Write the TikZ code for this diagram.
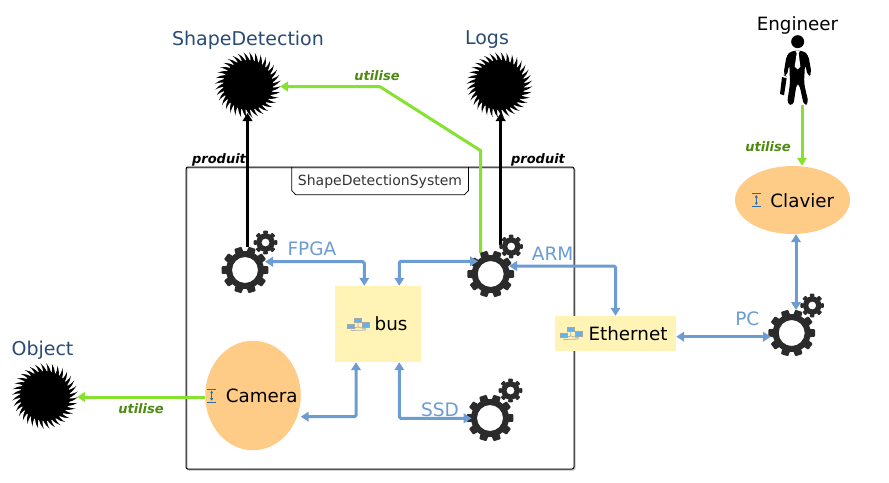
\documentclass[tikz,border=0pt]{standalone}
\usepackage{fontspec}
\setmainfont{DejaVu Sans}
\usetikzlibrary{arrows.meta,shapes.geometric}
\definecolor{titleblue}{HTML}{2A4B72}
\definecolor{linkblue}{HTML}{6D9CD2}
\definecolor{linkgreen}{HTML}{86E22E}
\definecolor{labgreen}{HTML}{4F8A10}
\definecolor{gearcol}{HTML}{2B2B2B}
\definecolor{peach}{HTML}{FFCC88}
\definecolor{pale}{HTML}{FFF4B5}
\definecolor{iconblue}{HTML}{2A6CA8}
\definecolor{netblue}{HTML}{5FB4F0}
\tikzset{
  anchorpt/.style={inner sep=0pt,minimum size=#1,shape=circle},
  titlelab/.style={text=titleblue,font=\fontsize{19}{21}\selectfont,inner sep=0pt},
  lablab/.style={text=linkblue,font=\fontsize{18.5}{20}\selectfont,inner sep=0pt},
  namelab/.style={text=black,font=\fontsize{18.3}{20}\selectfont,inner sep=0pt},
  rellab/.style={font=\fontsize{13}{15}\bfseries\itshape\selectfont,inner sep=0pt},
  bluelink/.style={draw=linkblue,line width=3pt,rounded corners=1.5pt,{Triangle[length=8pt,width=9.5pt]}-{Triangle[length=8pt,width=9.5pt]}},
  greenlink/.style={draw=linkgreen,line width=3pt,-{Triangle[length=8pt,width=9.5pt]}},
  blacklink/.style={draw=black,line width=3.4pt,-{Triangle[length=8pt,width=9.5pt]}},
  boxnode/.style={fill=pale,inner sep=0pt},
  ovalnode/.style={ellipse,fill=peach,inner sep=0pt},
}
\newcommand{\gearshape}[7]{% ring r, outer r, hole r, step, last, half base, half top
  \fill[gearcol,even odd rule] (0,0) circle (#1) circle (#3);
  \foreach \a in {0,#4,...,#5}{
    \fill[gearcol,rounded corners=.8pt] ({\a-#6}:{#1-.6}) -- ({\a-#7}:#2) -- ({\a+#7}:#2) -- ({\a+#6}:{#1-.6}) -- cycle;
  }
}
\newcommand{\geargroup}[3]{% name, x, y
  \begin{scope}[shift={(#2,#3)}]\gearshape{19}{23.6}{13}{36}{324}{13}{9}\end{scope}
  \begin{scope}[shift={(#2+20.5,#3-27.5)}]\gearshape{9.2}{12}{4}{45}{315}{15}{11}\end{scope}
  \node[anchorpt=46pt] (#1) at (#2,#3) {};
}
\newcommand{\spiky}[3]{% name, x, y
  \begin{scope}[shift={(#2,#3)}]
    \fill[black] (0,0) circle (25);
    \foreach \a in {0,10,...,350}{
      \fill[black] ({\a+4}:24.5) .. controls ({\a}:28) and ({\a-3}:30.5) .. ({\a-8}:33) .. controls ({\a-5}:29.5) and ({\a-5}:27) .. ({\a-4}:24.5) -- cycle;
    }
  \end{scope}
  \node[anchorpt=60pt] (#1) at (#2,#3) {};
}
\newcommand{\attricon}[2]{%
  \begin{scope}[shift={(#1,#2)},draw=iconblue,line width=.7pt]
    \draw (-4.5,-6.3) -- (4.5,-6.3) (-4.5,6.3) -- (4.5,6.3);
    \draw[{Latex[length=2.5pt,width=3.5pt]}-{Latex[length=2.5pt,width=3.5pt]}] (0,-5) -- (0,5);
  \end{scope}
}
\newcommand{\neticon}[2]{%
  \begin{scope}[shift={(#1,#2)}]
    \draw[black!30,line width=.8pt] (-7,5) -- (0,3) -- (8,5) (0,-1) -- (0,3) (-7,6.5) -- (8,6);
    \fill[netblue,draw=black!35,line width=.3pt] (-10.5,0) rectangle (-3.5,4.5);
    \fill[netblue,draw=black!35,line width=.3pt] (-3.5,-6) rectangle (3,-1.5);
    \fill[netblue,draw=black!35,line width=.3pt] (4.5,-1.5) rectangle (11,3);
  \end{scope}
}
\begin{document}
\begin{tikzpicture}[x=1pt,y=-1pt]
\useasboundingbox (0,0) rectangle (889,482);
\fill[white] (0,0) rectangle (889,482);
% container with soft shadow
\draw[black!25,line width=1pt,rounded corners=2pt] (187,168) rectangle (575,470);
\draw[black,line width=1pt,rounded corners=2pt] (186,167) rectangle (574,469);
\draw[black,line width=.8pt] (291.7,167) -- (291.7,190.5) -- (295.7,194.7) -- (464.5,194.7) -- (468.5,190.5) -- (468.5,167);
\node[font=\fontsize{14}{16}\selectfont,inner sep=0pt,text=black!80] (sds) at (380,181.5) {ShapeDetectionSystem};
% artifacts
\spiky{sd}{248}{85}
\spiky{logs}{499.5}{85}
\spiky{obj}{45}{396}
\node[titlelab] (sdt) at (248,40) {ShapeDetection};
\node[titlelab] (logst) at (487,40) {Logs};
\node[titlelab] (objt) at (42.5,350) {Object};
\node[namelab] (engt) at (797.5,25) {Engineer};
% boxes
\node[boxnode,minimum width=86pt,minimum height=76pt] (bus) at (378,324) {};
\node[namelab] (bust) at (391,324) {bus};
\neticon{358}{324}
\node[boxnode,minimum width=121pt,minimum height=35pt] (eth) at (615.5,333.5) {};
\node[namelab] (etht) at (628,334) {Ethernet};
\neticon{570.7}{333}
% ovals
\node[ovalnode,minimum width=95.5pt,minimum height=109.5pt] (cam) at (253,395.5) {};
\node[namelab] (camt) at (261.7,396) {Camera};
\attricon{211.7}{395.7}
\node[ovalnode,minimum width=115pt,minimum height=68pt] (clav) at (792.5,200) {};
\node[namelab] (clavt) at (802.3,200.5) {Clavier};
\attricon{756.3}{200}
% engineer figure
\node[anchorpt=2pt] (eng) at (802,105) {};
\begin{scope}[shift={(730,0)},scale=1/3]
  \fill[black] (203,125) circle (19.5);
  \fill[black,rounded corners=4pt] (185,152) -- (220,152) -- (235,165) -- (245,222) -- (234,230) -- (225,192) -- (222,250) -- (236,310) -- (222,317) -- (207,250) -- (200,250) -- (190,317) -- (171,312) -- (180,250) -- (178,192) -- (170,230) -- (160,225) -- (170,165) -- cycle;
  \fill[white] (196,152) -- (210,152) -- (206,160) -- (211,200) -- (203,208) -- (194,200) -- (200,160) -- cycle;
  \fill[black] (156,231) -- (170,235) -- (162,286) -- (150,282) -- cycle;
\end{scope}
% named points of the bent green link
\coordinate (g1) at (480.7,150.7);
\coordinate (g2) at (380,86.7);
% gear anchors first, so the links can lie beneath the gears
\node[anchorpt=46pt] (fpga) at (245,270) {};
\node[anchorpt=46pt] (arm) at (490.7,274) {};
\draw[blacklink] ([shift={(2.5,-23)}]fpga.center) -- ([shift={(-.5,28)}]sd.center);
\draw[blacklink] ([shift={(10,-29)}]arm.center) -- ([shift={(1.2,28)}]logs.center);
\draw[greenlink,line join=round] ([shift={(-10,-21)}]arm.center) -- (g1) -- (g2) -- ([shift={(32,1.5)}]sd.center);
\geargroup{fpga}{245}{270}
\geargroup{arm}{490.7}{274}
\geargroup{ssd}{490}{418}
\geargroup{pc}{791.7}{333}
\draw[greenlink] (cam.west |- 0,397) -- ([shift={(32,1)}]obj.center);
\draw[greenlink] (eng.center) -- (eng.center |- clav.north);
\draw[bluelink] ([shift={(20,-8.3)}]fpga.center) -| ([shift={(-13.7,0)}]bus.north);
\draw[bluelink] ([shift={(-12.7,-12.7)}]arm.center) -| ([shift={(21.3,0)}]bus.north);
\draw[bluelink] ([shift={(47.7,21.2)}]cam.center) -| ([shift={(-22,0)}]bus.south);
\draw[bluelink] ([shift={(-18.3,.3)}]ssd.center) -| ([shift={(21.3,0)}]bus.south);
\draw[bluelink] ([shift={(18.3,-8)}]arm.center) -| (eth.north);
\draw[bluelink] ([shift={(0,3.2)}]eth.east) -- ([shift={(-20.7,3.7)}]pc.center);
\draw[bluelink] ([shift={(4.3,-23)}]pc.center) -- ([shift={(4.3,0)}]pc.center |- clav.south);
% labels
\node[lablab] (lfpga) at (312,249) {FPGA};
\node[lablab] (larm) at (552.7,254) {ARM};
\node[lablab] (lssd) at (440,410) {SSD};
\node[lablab] (lpc) at (747.3,318.3) {PC};
\node[rellab,text=black] (p1) at (219,159.5) {produit};
\node[rellab,text=black] (p2) at (538,159.5) {produit};
\node[rellab,text=labgreen] (u1) at (377,75.5) {utilise};
\node[rellab,text=labgreen] (u2) at (768,146.5) {utilise};
\node[rellab,text=labgreen] (u3) at (141,408.5) {utilise};
\end{tikzpicture}
\end{document}
